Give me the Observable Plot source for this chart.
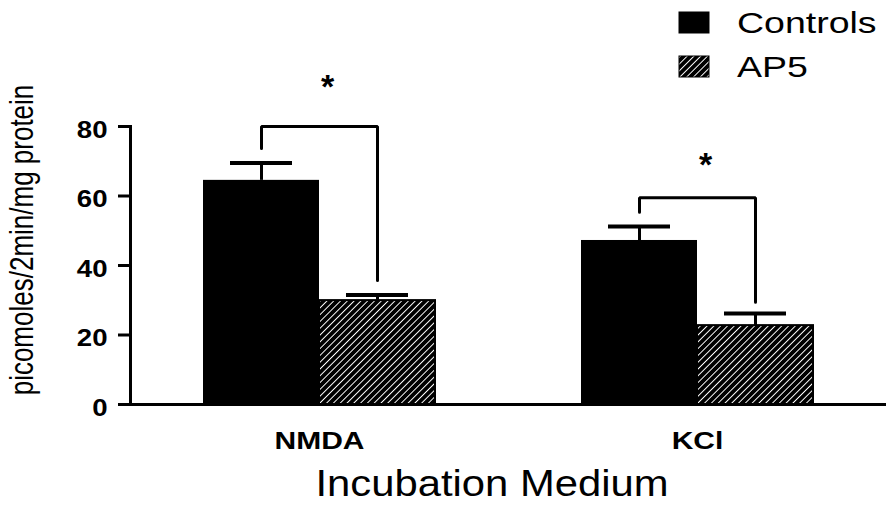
<!DOCTYPE html>
<html><head><meta charset="utf-8">
<script src="https://cdn.jsdelivr.net/npm/d3@7"></script>
<script src="https://cdn.jsdelivr.net/npm/@observablehq/plot@0.6"></script>
<style>
body{margin:0;background:#fff;}
#wrap{position:relative;width:889px;height:508px;overflow:hidden;font-family:"Liberation Sans",Arial,sans-serif;}
#overlay{position:absolute;left:0;top:0;pointer-events:none;}
g[aria-label="y-axis tick label"] text{font-size:23px;font-weight:bold;}
g[aria-label="fx-axis tick label"] text{font-size:24px;font-weight:bold;}
</style></head><body>
<div id="wrap"><div id="chart"></div>
<svg id="overlay" width="889" height="508" xmlns="http://www.w3.org/2000/svg"></svg></div>
<script>
// ---- data ----
const media = ["NMDA", "KCl"];
const groups = ["Controls", "AP5"];
const controlsMean = [64.5, 47.2];
const controlsSem = [5.0, 4.0];
const ap5Mean = [29.9, 22.7];
const ap5Sem = [1.6, 3.5];
const bracketTop = [80, 59.5];
const bracketLeftEnd = [73.7, 55.3];
const bracketRightEnd = [35.7, 29.4];
const starY = [92.7, 70.2];
const yTicks = [0, 20, 40, 60, 80];
const xTitle = "Incubation Medium";
const yTitle = "picomoles/2min/mg protein";

const rows = media.flatMap((m, i) => [
  {medium: m, group: groups[0], value: controlsMean[i], sem: controlsSem[i]},
  {medium: m, group: groups[1], value: ap5Mean[i], sem: ap5Sem[i]}
]);
const bracketRows = media.flatMap((m, i) => [
  {medium: m, group: groups[0], y: bracketLeftEnd[i]},
  {medium: m, group: groups[0], y: bracketTop[i]},
  {medium: m, group: groups[1], y: bracketTop[i]},
  {medium: m, group: groups[1], y: bracketRightEnd[i]}
]);
const starRows = media.map((m, i) => ({medium: m, y: starY[i]}));

const FONT = "'Liberation Sans', Arial, Helvetica, sans-serif";

const chart = Plot.plot({
  width: 889, height: 508,
  marginLeft: 130, marginRight: 3, marginTop: 126, marginBottom: 104,
  style: {fontFamily: FONT, color: "black", background: "white", overflow: "visible"},
  fx: {domain: media, padding: 0, label: null},
  x: {domain: groups, paddingInner: 0, paddingOuter: 0.629, axis: null},
  y: {domain: [0, 80], label: null},
  marks: [
    Plot.barY(rows.filter(d => d.group === groups[0]), {fx: "medium", x: "group", y: "value", fill: "black"}),
    Plot.barY(rows.filter(d => d.group === groups[1]), {fx: "medium", x: "group", y: "value", fill: "url(#ap5hatch)", stroke: "black", strokeWidth: 2}),
    Plot.ruleX(rows, {fx: "medium", x: "group", y1: "value", y2: d => d.value + d.sem, strokeWidth: 3}),
    Plot.tickY(rows, {fx: "medium", x: "group", y: d => d.value + d.sem, strokeWidth: 4, insetLeft: 27, insetRight: 27}),
    Plot.line(bracketRows, {fx: "medium", x: "group", y: "y", z: "medium", strokeWidth: 3, strokeLinejoin: "miter"}),
    Plot.text(starRows, {fx: "medium", y: "y", text: () => "*", fontSize: 34, fontWeight: "bold", dx: 8, dy: 5}),
    Plot.ruleY([0], {strokeWidth: 3}),
    Plot.frame({anchor: "left", facetAnchor: "left", strokeWidth: 3}),
    Plot.axisY({ticks: yTicks, fill: "none", tickSize: 12, strokeWidth: 3, label: null}),
    Plot.axisY({ticks: yTicks, stroke: "none", tickSize: 12, tickPadding: 11, fontSize: 23, dy: 4, label: null}),
    Plot.axisFx({anchor: "bottom", tickSize: 0, tickPadding: 27, fontSize: 24, label: null})
  ]
});
document.getElementById("chart").appendChild(chart);

// horizontal stretch of the scanned lettering, about each label's anchor
function stretch(selector, s, anchor) {
  for (const t of Array.from(chart.querySelectorAll(selector))) {
    const r = t.getBoundingClientRect();
    if (!r.width) continue;
    const px = anchor === "end" ? r.right : anchor === "start" ? r.left : (r.left + r.right) / 2;
    const parent = t.parentNode;
    const ctm = parent.getScreenCTM();
    if (!ctm) continue;
    const p = new DOMPoint(px, r.top).matrixTransform(ctm.inverse());
    const g = document.createElementNS("http://www.w3.org/2000/svg", "g");
    g.setAttribute("transform", `translate(${p.x},0) scale(${s},1) translate(${-p.x},0)`);
    parent.insertBefore(g, t);
    g.appendChild(t);
  }
}
stretch('g[aria-label="y-axis tick label"] text', 1.2, "end");
stretch('g[aria-label="fx-axis tick label"] text', 1.25, "middle");

// overlay: pattern, legend, titles
const ov = d3.select("#overlay");
const pat = ov.append("defs").append("pattern")
  .attr("id", "ap5hatch").attr("patternUnits", "userSpaceOnUse")
  .attr("width", 4.8).attr("height", 4.8).attr("patternTransform", "rotate(45)");
pat.append("rect").attr("width", 4.8).attr("height", 4.8).attr("fill", "#000");
pat.append("line").attr("x1", 2.4).attr("x2", 2.4).attr("y1", 0).attr("y2", 4.8)
  .attr("stroke", "#fff").attr("stroke-width", 1.0);

const legendFill = ["#000", "url(#ap5hatch)"];
const lg = ov.append("g").attr("font-family", FONT);
groups.forEach((g, i) => {
  lg.append("rect").attr("x", 679).attr("y", 12 + i * 44).attr("width", 30).attr("height", 21)
    .attr("fill", legendFill[i]).attr("stroke", "#000").attr("stroke-width", 1);
  lg.append("text").attr("transform", `translate(737,${33 + i * 44}) scale(1.25,1)`)
    .attr("font-size", 30).attr("fill", "#000").text(g);
});
ov.append("text").attr("transform", "translate(492,496) scale(1.13,1)")
  .attr("text-anchor", "middle").attr("font-family", FONT).attr("font-size", 37).attr("fill", "#000").text(xTitle);
ov.append("text").attr("transform", "translate(33,240) rotate(-90) scale(1,1.25)")
  .attr("text-anchor", "middle").attr("font-family", FONT).attr("font-size", 26).attr("fill", "#000").text(yTitle);
</script>
</body></html>
